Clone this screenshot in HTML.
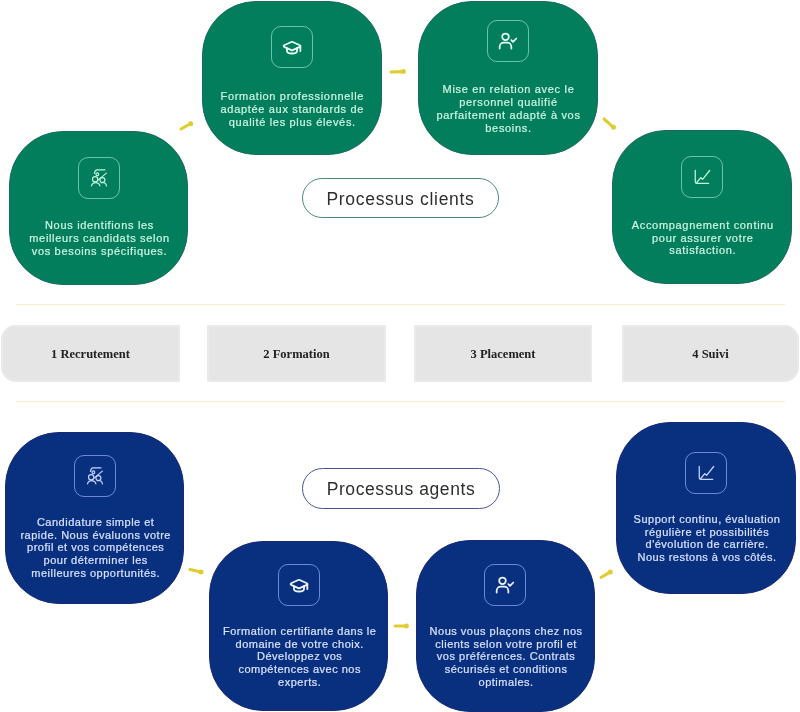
<!DOCTYPE html>
<html><head><meta charset="utf-8">
<style>
html,body{margin:0;padding:0;background:#fff;width:800px;height:712px;overflow:hidden;position:relative;}
*{box-sizing:border-box;}
body>div{will-change:transform;}
.box{position:absolute;border-radius:54px;overflow:visible;}
.g{background:#027e5c;border:1px solid #1b6a5d;}
.b{background:#08307f;border:1px solid #1a2877;}
.ic{position:absolute;width:42px;height:42px;border-radius:10px;}
.g .ic{border:1.4px solid rgba(165,238,210,.62);}
.b .ic{border:1.4px solid rgba(155,180,255,.68);}
.ic svg{position:absolute;left:50%;top:50%;width:20px;height:20px;margin:-10px 0 0 -10px;overflow:visible;}
.tx{position:absolute;left:0;width:100%;text-align:center;white-space:nowrap;font-family:"Liberation Sans",sans-serif;font-size:11px;line-height:12.8px;-webkit-text-stroke:0.2px currentColor;}
.g .tx{color:#cff5e3;letter-spacing:0.68px;}
.b .tx{color:#dae3ff;letter-spacing:0.5px;}
.pill{position:absolute;border-radius:30px;background:#fff;font-family:"Liberation Sans",sans-serif;font-size:17.5px;letter-spacing:0.6px;color:#2e2e2e;display:flex;align-items:center;justify-content:center;padding-top:2px;}
.line{position:absolute;left:16px;width:769px;height:1px;background:#f4eccb;}
.tab{position:absolute;top:325px;height:57px;background:#e5e5e5;font-family:"Liberation Serif",serif;font-weight:bold;font-size:12.5px;color:#222;display:flex;align-items:center;justify-content:center;padding-top:1px;box-shadow:inset 0 0 0 2px #eaeaea;}
</style></head><body>
<div class="box g" style="left:9px;top:131px;width:179px;height:154px;">
  <div class="ic" style="left:68px;top:25px;"><svg style="transform:translateY(0px)" viewBox="0 0 24 24" fill="none" stroke="#c2f4dc" stroke-width="1.4" stroke-linecap="round" stroke-linejoin="round"><path d="M6.5 6.6C7 3.8 8 2.2 9.5 2.2H19.2"/><circle cx="10" cy="7.5" r="1.7"/><circle cx="7.4" cy="13.5" r="3.2"/><circle cx="16.1" cy="14.5" r="3"/><path d="M20.9 6.1 10.8 14.5"/><path d="M3 21.5a5.2 5.2 0 0 1 10.1 0"/><path d="M14.8 17.6a4.3 4.3 0 0 1 6.1 3.9"/></svg></div>
  <div class="tx" style="top:87.0px;left:1.0px;">Nous identifions les<br>meilleurs candidats selon<br>vos besoins spécifiques.</div>
</div>
<div class="box g" style="left:202px;top:1px;width:180px;height:154px;">
  <div class="ic" style="left:67.5px;top:24px;"><svg style="transform:translateY(0.7px)" viewBox="0 0 24 24" fill="none" stroke="#e6fff4" stroke-width="2.2" stroke-linecap="round" stroke-linejoin="round"><path d="M21.42 10.922a1 1 0 0 0-.019-1.838L12.83 5.18a2 2 0 0 0-1.66 0L2.6 9.08a1 1 0 0 0 0 1.832l8.57 3.908a2 2 0 0 0 1.66 0z"/><path d="M22 10v6"/><path d="M6 12.5V16a6 3 0 0 0 12 0v-3.5"/></svg></div>
  <div class="tx" style="top:88.1px;left:0.3px;">Formation professionnelle<br>adaptée aux standards de<br>qualité les plus élevés.</div>
</div>
<div class="box g" style="left:418px;top:1px;width:180px;height:154px;">
  <div class="ic" style="left:68px;top:17.5px;"><svg style="transform:translateY(0px)" viewBox="0 0 24 24" fill="none" stroke="#e6fff4" stroke-width="2.1" stroke-linecap="round" stroke-linejoin="round"><circle cx="9" cy="7" r="4"/><path d="M2 21v-2a5 5 0 0 1 5-5h4a5 5 0 0 1 5 5v2"/><path d="M16 11l2 2 4-4"/></svg></div>
  <div class="tx" style="top:81.3px;left:0.5px;">Mise en relation avec le<br>personnel qualifié<br>parfaitement adapté à vos<br>besoins.</div>
</div>
<div class="box g" style="left:612px;top:130px;width:180px;height:154px;">
  <div class="ic" style="left:68px;top:25px;"><svg style="transform:translateY(0px)" viewBox="0 0 24 24" fill="none" stroke="#c2f4dc" stroke-width="1.5" stroke-linecap="round" stroke-linejoin="round"><path d="M3.9 3.9V17.6a2 2 0 0 0 2 2H20"/><path d="M5.7 18.6 10.5 12.8 12.7 14.8 21.2 4.2"/></svg></div>
  <div class="tx" style="top:87.9px;left:0.8px;">Accompagnement continu<br>pour assurer votre<br>satisfaction.</div>
</div>
<div class="pill" style="left:302px;top:178px;width:197px;height:40px;border:1.6px solid #4b8878;letter-spacing:0.7px;">Processus clients</div>
<div class="line" style="top:304px;"></div>
<div class="tab" style="left:1px;width:179px;border-radius:15px 0 0 15px;">1 Recrutement</div>
<div class="tab" style="left:207px;width:179px;">2 Formation</div>
<div class="tab" style="left:414px;width:178px;">3 Placement</div>
<div class="tab" style="left:622px;width:177px;border-radius:0 15px 15px 0;">4 Suivi</div>
<div class="line" style="top:401px;"></div>
<div class="box b" style="left:5px;top:432px;width:179px;height:172px;">
  <div class="ic" style="left:68px;top:22px;"><svg style="transform:translateY(0px)" viewBox="0 0 24 24" fill="none" stroke="#c8d5ff" stroke-width="1.4" stroke-linecap="round" stroke-linejoin="round"><path d="M6.5 6.6C7 3.8 8 2.2 9.5 2.2H19.2"/><circle cx="10" cy="7.5" r="1.7"/><circle cx="7.4" cy="13.5" r="3.2"/><circle cx="16.1" cy="14.5" r="3"/><path d="M20.9 6.1 10.8 14.5"/><path d="M3 21.5a5.2 5.2 0 0 1 10.1 0"/><path d="M14.8 17.6a4.3 4.3 0 0 1 6.1 3.9"/></svg></div>
  <div class="tx" style="top:82.8px;left:1.2px;">Candidature simple et<br>rapide. Nous évaluons votre<br>profil et vos compétences<br>pour déterminer les<br>meilleures opportunités.</div>
</div>
<div class="box b" style="left:209px;top:541px;width:179px;height:170px;">
  <div class="ic" style="left:68px;top:22px;"><svg style="transform:translateY(0.7px)" viewBox="0 0 24 24" fill="none" stroke="#eef3ff" stroke-width="2.2" stroke-linecap="round" stroke-linejoin="round"><path d="M21.42 10.922a1 1 0 0 0-.019-1.838L12.83 5.18a2 2 0 0 0-1.66 0L2.6 9.08a1 1 0 0 0 0 1.832l8.57 3.908a2 2 0 0 0 1.66 0z"/><path d="M22 10v6"/><path d="M6 12.5V16a6 3 0 0 0 12 0v-3.5"/></svg></div>
  <div class="tx" style="top:82.9px;left:1.2px;">Formation certifiante dans le<br>domaine de votre choix.<br>Développez vos<br>compétences avec nos<br>experts.</div>
</div>
<div class="box b" style="left:416px;top:540px;width:179px;height:172px;">
  <div class="ic" style="left:67px;top:22.5px;"><svg style="transform:translateY(0px)" viewBox="0 0 24 24" fill="none" stroke="#eef3ff" stroke-width="2.1" stroke-linecap="round" stroke-linejoin="round"><circle cx="9" cy="7" r="4"/><path d="M2 21v-2a5 5 0 0 1 5-5h4a5 5 0 0 1 5 5v2"/><path d="M16 11l2 2 4-4"/></svg></div>
  <div class="tx" style="top:83.8px;left:0.6px;">Nous vous plaçons chez nos<br>clients selon votre profil et<br>vos préférences. Contrats<br>sécurisés et conditions<br>optimales.</div>
</div>
<div class="box b" style="left:616px;top:422px;width:180px;height:172px;">
  <div class="ic" style="left:68px;top:29px;"><svg style="transform:translateY(0px)" viewBox="0 0 24 24" fill="none" stroke="#c8d5ff" stroke-width="1.5" stroke-linecap="round" stroke-linejoin="round"><path d="M3.9 3.9V17.6a2 2 0 0 0 2 2H20"/><path d="M5.7 18.6 10.5 12.8 12.7 14.8 21.2 4.2"/></svg></div>
  <div class="tx" style="top:89.8px;left:1.0px;">Support continu, évaluation<br>régulière et possibilités<br>d'évolution de carrière.<br>Nous restons à vos côtés.</div>
</div>
<div class="pill" style="left:302px;top:468px;width:198px;height:41px;border:1.6px solid #47569a;">Processus agents</div>
<svg style="position:absolute;left:0;top:0;" width="800" height="712"><g fill="#dfcd33" stroke="#dfcd33" stroke-linecap="round">
<path d="M181 129L190.7 123.7" stroke-width="3.1"/><circle cx="190.7" cy="123.7" r="2.5" stroke="none"/>
<path d="M391 72L403.4 71.6" stroke-width="3.1"/><circle cx="403.4" cy="71.6" r="2.5" stroke="none"/>
<path d="M604 119L613.5 127.3" stroke-width="3.1"/><circle cx="613.5" cy="127.3" r="2.5" stroke="none"/>
<path d="M190 569.5L201.0 571.9" stroke-width="3.1"/><circle cx="201.0" cy="571.9" r="2.5" stroke="none"/>
<path d="M395 626L406.4 626.0" stroke-width="3.1"/><circle cx="406.4" cy="626.0" r="2.5" stroke="none"/>
<path d="M601 577.5L610.3 571.9" stroke-width="3.1"/><circle cx="610.3" cy="571.9" r="2.5" stroke="none"/>
</g></svg>
</body></html>
